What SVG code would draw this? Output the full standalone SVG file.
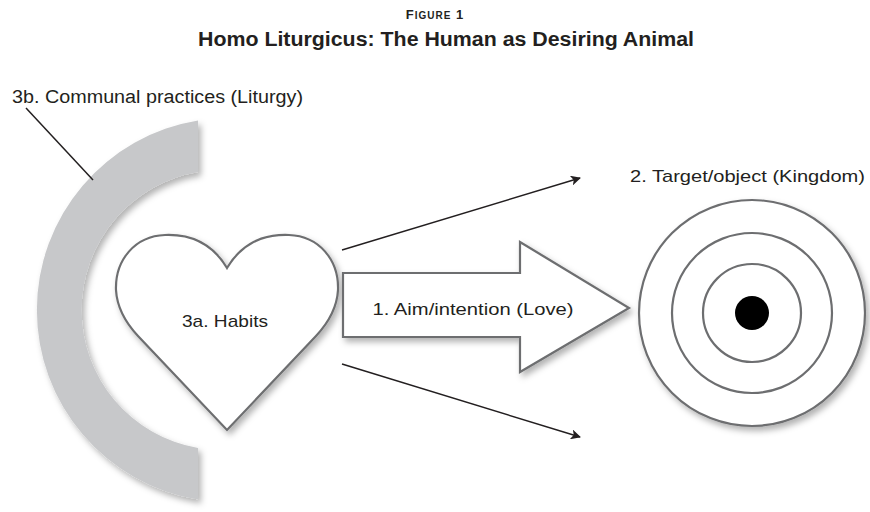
<svg xmlns="http://www.w3.org/2000/svg" width="870" height="512" viewBox="0 0 870 512">
<style>
text{font-family:"Liberation Sans","Open Sans",sans-serif;fill:#231f20}
.lbl{font-size:17px}
.outline{fill:#fff;stroke:#6d6e70;stroke-width:2.2}
.ring{fill:none;stroke:#6d6e70;stroke-width:2.2}
.conn{stroke:#231f20;stroke-width:1.5;fill:none}
</style>
<defs>
<filter id="sh" x="-20%" y="-20%" width="150%" height="150%">
<feDropShadow dx="3" dy="4" stdDeviation="3" flood-color="#000" flood-opacity="0.3"/>
</filter>
<marker id="ah" viewBox="0 0 10 10" refX="9" refY="5" markerWidth="10" markerHeight="10" markerUnits="userSpaceOnUse" orient="auto">
<path d="M0,0 L10,5 L0,10 L2.5,5 Z" fill="#231f20"/>
</marker>
</defs>
<rect width="870" height="512" fill="#fff"/>
<g id="title">
<text x="435" y="19" text-anchor="middle" font-size="13" font-weight="bold" letter-spacing="1">F<tspan font-size="10">IGURE</tspan> 1</text>
<text x="446" y="46" text-anchor="middle" font-size="20" font-weight="bold" textLength="496" lengthAdjust="spacingAndGlyphs">Homo Liturgicus: The Human as Desiring Animal</text>
</g>
<g id="liturgy">
<path d="M198,120.5 A192,192 0 0 0 198,499.5 L198,448 A140,140 0 0 1 198,172 Z" fill="#c7c8ca" filter="url(#sh)"/>
<text x="12" y="103" font-size="18" textLength="291" lengthAdjust="spacingAndGlyphs">3b. Communal practices (Liturgy)</text>
</g>
<g id="heart">
<path class="outline" filter="url(#sh)" d="M227,268 C212,243 190,234 165,235 C135,236 115,260 116,290 C117,308 125,322 138,336 L227,430 L316,336 C329,322 337,308 338,290 C339,260 319,236 289,235 C264,234 242,243 227,268 Z"/>
<text class="lbl" x="225" y="327" text-anchor="middle" textLength="86" lengthAdjust="spacingAndGlyphs">3a. Habits</text>
</g>
<g id="aim">
<path class="outline" filter="url(#sh)" d="M343,273 L520,273 L520,242 L629,308 L520,372 L520,337 L343,337 Z"/>
<text class="lbl" x="473" y="315" text-anchor="middle" textLength="201" lengthAdjust="spacingAndGlyphs">1. Aim/intention (Love)</text>
</g>
<g id="target">
<circle class="outline" filter="url(#sh)" cx="752" cy="313" r="113"/>
<circle class="ring" cx="752" cy="313" r="80"/>
<circle class="ring" cx="752" cy="313" r="49"/>
<circle cx="752" cy="313" r="17" fill="#000"/>
<text class="lbl" x="630" y="182" textLength="235" lengthAdjust="spacingAndGlyphs">2. Target/object (Kingdom)</text>
</g>
<g id="connectors">
<line class="conn" x1="26" y1="108" x2="93" y2="180"/>
<line class="conn" x1="342" y1="250" x2="580" y2="178" marker-end="url(#ah)"/>
<line class="conn" x1="342" y1="364" x2="580" y2="437" marker-end="url(#ah)"/>
</g>
</svg>
